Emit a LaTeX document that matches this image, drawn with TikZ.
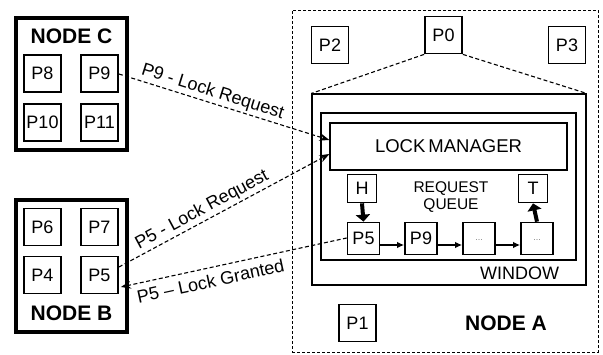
\documentclass[tikz,border=0pt]{standalone}
\usepackage{fontspec}
\setmainfont{Liberation Sans}
\usetikzlibrary{arrows.meta,calc}

\begin{document}
\begin{tikzpicture}[x=1pt,y=-1pt,
  lbl/.style={font=\fontsize{18}{20}\selectfont},
  proc/.style={draw, line width=1.8pt, minimum width=37pt, minimum height=37pt, inner sep=0pt, lbl},
  cluster/.style={draw, line width=3.6pt, minimum width=111pt, minimum height=132pt, inner sep=0pt},
  title/.style={font=\fontsize{21}{24}\selectfont\bfseries, inner sep=0pt},
  qbox/.style={draw, line width=1.7pt, minimum width=32pt, minimum height=32pt, inner sep=0pt, lbl},
  ptr/.style={draw, line width=1.7pt, minimum width=29pt, minimum height=28pt, inner sep=0pt, lbl},
  frame/.style={draw, line width=1.2pt, inner sep=0pt},
  msg/.style={line width=1.1pt, dash pattern=on 4pt off 2.5pt, -{Stealth[length=10pt,width=7.5pt]}},
  link/.style={line width=1.3pt, -{Latex[length=7pt,width=6.5pt]}},
  bold arrow/.style={line width=4pt, -{Triangle[length=7pt,width=14pt]}},
  slant/.style={lbl, sloped, inner sep=2pt}
]
\useasboundingbox (0,0) rectangle (603,354);

% ---- node C ----
\node[cluster] (nodeC) at (71.5,84) {};
\node[title] (tC) at (71.5,36) {NODE C};
\node[proc] (p8)  at (42.5,73.5)  {P8};
\node[proc] (p9)  at (99.5,73.5)  {P9};
\node[proc] (p10) at (42.5,122.5) {P10};
\node[proc] (p11) at (99.5,122.5) {P11};

% ---- node B ----
\node[cluster] (nodeB) at (71.5,266) {};
\node[title] (tB) at (71.5,313) {NODE B};
\node[proc] (p6) at (42.5,227) {P6};
\node[proc] (p7) at (99.5,227) {P7};
\node[proc] (p4) at (42.5,275) {P4};
\node[proc] (p5) at (99.5,275) {P5};

% ---- node A ----
\node[draw, line width=0.8pt, dash pattern=on 3pt off 2pt, minimum width=306pt, minimum height=342pt, inner sep=0pt] (nodeA) at (445,181) {};
\node[title] (tA) at (506,323) {NODE A};
\node[proc] (p0) at (443.5,35) {P0};
\node[proc] (p2) at (330,45)   {P2};
\node[proc] (p3) at (567,45)   {P3};
\node[proc] (p1) at (357.5,323) {P1};

% window of P0
\node[frame, minimum width=274pt, minimum height=191pt] (winOut) at (449,189.5) {};
\node[frame, minimum width=255pt, minimum height=147pt] (winIn) at (448.5,186.5) {};
\node[lbl, inner sep=0pt] (winLbl) at (519.5,273) {WINDOW};
\draw[line width=1.1pt, dash pattern=on 4pt off 2.5pt] (p0.south west) -- (winOut.north west);
\draw[line width=1.1pt, dash pattern=on 4pt off 2.5pt] (p0.south east) -- (winOut.north east);

% lock manager
\node[frame, minimum width=237pt, minimum height=47pt, font=\fontsize{18.5}{20}\selectfont] (lm) at (448.5,146.5) {LOCK\,MANAGER};

% request queue
\node[font=\fontsize{15.5}{18}\selectfont, align=center, inner sep=0pt] (rq) at (451,197) {REQUEST\\[-1pt]QUEUE};
\node[ptr] (h) at (362,188.5) {H};
\node[ptr] (t) at (533,188.5) {T};
\node[qbox] (q1) at (363.5,238.5) {P5};
\node[qbox] (q2) at (421,238.5)   {P9};
\node[qbox] (q3) at (479,238.5)   {\textcolor{gray}{\fontsize{9}{10}\selectfont\raisebox{-3pt}{...}}};
\node[qbox] (q4) at (537,238.5)   {\textcolor{gray}{\fontsize{9}{10}\selectfont\raisebox{-3pt}{...}}};

\draw[link] ($(q1.east)+(0,6.5)$) -- ($(q2.west)+(0,6.5)$);
\draw[link] ($(q2.east)+(0,6.5)$) -- ($(q3.west)+(0,6.5)$);
\draw[link] ($(q3.east)+(0,6.5)$) -- ($(q4.west)+(0,6.5)$);
\draw[bold arrow] (h.south) -- (q1.north);
\draw[bold arrow] (q4.north) -- (t.south);

% messages between nodes
\coordinate (lmIn1) at ($(lm.west)+(0,-6.5)$);
\coordinate (lmIn2) at ($(lm.west)+(0,7.5)$);
\draw[msg] ($(p9.east)+(0,0.5)$) -- node[slant, above, pos=0.43] {P9 - Lock Request} (lmIn1);
\draw[msg] ($(p5.east)+(0,-8)$) -- node[slant, above, pos=0.42] {P5 - Lock Request} (lmIn2);
\draw[msg, <-, {Stealth[length=10pt,width=7.5pt]}-] ($(p5.east)+(2,12)$) -- node[slant, below, pos=0.385, inner sep=6pt] {P5 -- Lock Granted} ($(q1.west)+(0,-0.5)$);
\end{tikzpicture}
\end{document}
